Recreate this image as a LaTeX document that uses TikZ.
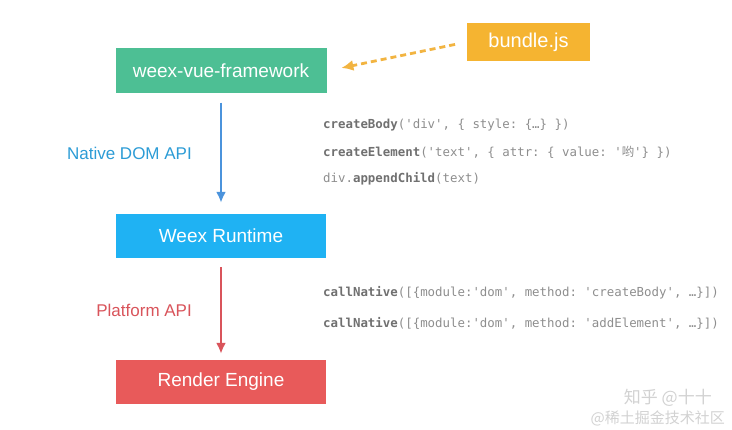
\documentclass[tikz,border=0pt]{standalone}
\usepackage{fontspec}
\setmainfont{Liberation Sans}
\setmonofont{DejaVu Sans Mono}
\newfontfamily\cjk{Noto Sans CJK SC}
\usetikzlibrary{arrows.meta}
\usetikzlibrary{positioning}

\definecolor{vuegreen}{HTML}{4DBF94}
\definecolor{runtimeblue}{HTML}{1FB2F3}
\definecolor{enginered}{HTML}{E85A5A}
\definecolor{bundleorange}{HTML}{F5B431}
\definecolor{dashorange}{HTML}{F2B441}
\definecolor{arrowblue}{HTML}{4B93DC}
\definecolor{apiblue}{HTML}{2C9CD6}
\definecolor{apired}{HTML}{D9545B}
\definecolor{codegray}{HTML}{8E8E8E}
\definecolor{codedark}{HTML}{707070}

\tikzset{
  layer/.style={rectangle, minimum width=210pt, minimum height=44pt,
      inner sep=0pt, text=white, font=\fontsize{19}{22}\selectfont},
  code/.style={anchor=west, inner sep=0pt, text=codegray,
      font=\ttfamily\fontsize{12.4}{14}\selectfont},
  api/.style={anchor=east, inner sep=0pt, font=\fontsize{17}{20}\selectfont},
  flow/.style={line width=2.2pt, -{Latex[length=11pt,width=10pt]}},
}
\newcommand{\fn}[1]{\textcolor{codedark}{\textbf{#1}}}

\begin{document}
\begin{tikzpicture}[x=1pt,y=-1pt]
  \fill[white] (0,0) rectangle (732,430);
  \useasboundingbox (0,0) rectangle (732,430);

  % the three layers
  \node[layer,fill=vuegreen,minimum width=211pt,minimum height=45pt] (frame) at (221,71) {weex-vue-framework};
  \node[layer,fill=runtimeblue] (runtime) at (221,236) {Weex Runtime};
  \node[layer,fill=enginered] (engine) at (221,382) {Render Engine};
  \node[rectangle,fill=bundleorange,text=white,minimum width=123pt,minimum height=38pt,
      inner sep=0pt,font=\fontsize{20}{23}\selectfont] (bundle) at (528.5,42) {bundle.js};

  \path[draw=dashorange,line width=2.8pt,dash pattern=on 6pt off 4pt,
      -{Latex[length=12pt,width=11pt]},shorten <=12pt,shorten >=15pt]
    (bundle.west) -- (frame.east);
  \draw[flow,arrowblue,shorten <=9pt,shorten >=11pt] (frame) -- (runtime);
  \draw[flow,apired,shorten <=9pt,shorten >=6pt] (runtime) -- (engine);

  \node[api,text=apiblue] (nativeapi) at (192,153) {Native DOM API};
  \node[api,text=apired] (platformapi) at (192,310) {Platform API};

  % calls on each side
  \node[code] (c1) at (323,125) {\fn{createBody}('div', \{ style: \{…\} \})};
  \node[code] (c2) at (323,152) {\fn{createElement}('text', \{ attr: \{ value: '{\cjk 哟}'\} \})};
  \node[code] (c3) at (323,179) {div.\fn{appendChild}(text)};
  \node[code] (n1) at (323,293) {\fn{callNative}([\{module:'dom', method: 'createBody', …\}])};
  \node[code] (n2) at (323,323) {\fn{callNative}([\{module:'dom', method: 'addElement', …\}])};

  % watermark
  \node[anchor=east,inner sep=0pt,text=gray!35,font=\cjk\fontsize{17}{19}\selectfont] (mark1) at (712,398) {知乎 @十十};
  \node[anchor=east,inner sep=0pt,text=gray!35,font=\cjk\fontsize{15}{17}\selectfont] (mark2) at (725,418) {@稀土掘金技术社区};
\end{tikzpicture}
\end{document}
